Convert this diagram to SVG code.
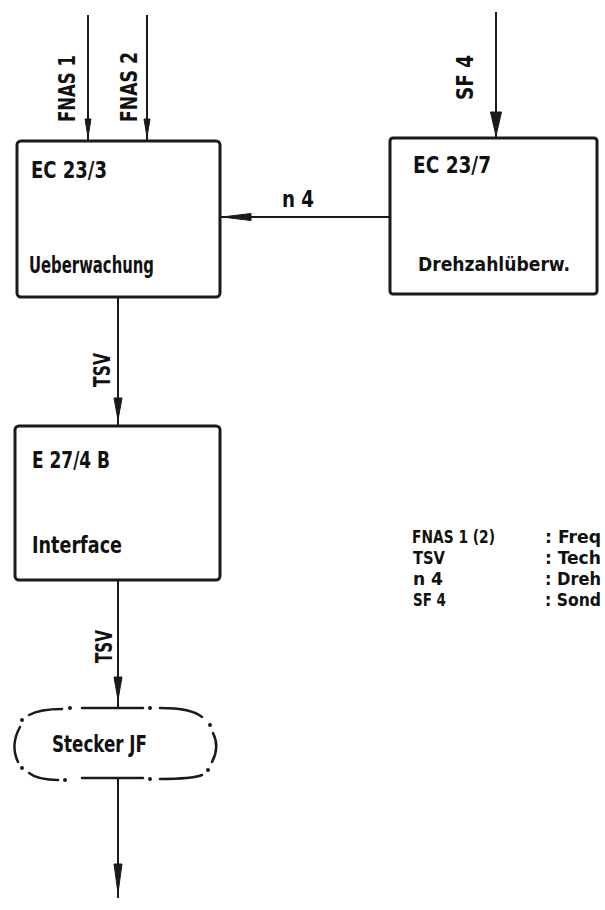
<svg xmlns="http://www.w3.org/2000/svg" width="605" height="910" viewBox="0 0 605 910">
<style>
  .bg { fill: #ffffff; }
  .box { fill: none; stroke: #1a1a1a; stroke-width: 3; }
  .ln { fill: none; stroke: #1a1a1a; stroke-width: 2; }
  .head { fill: #1a1a1a; stroke: #1a1a1a; stroke-width: 1; stroke-linejoin: round; }
  .dash { fill: none; stroke: #1a1a1a; stroke-width: 2.5; stroke-linecap: round; }
  .dot { fill: #1a1a1a; }
  .t { font-family: "DejaVu Sans Condensed", "DejaVu Sans", sans-serif; font-weight: bold; font-size: 23px; fill: #111111; }
  .ts { font-size: 20px; }
  .lg { font-family: "DejaVu Sans Condensed", "DejaVu Sans", sans-serif; font-weight: bold; font-size: 17px; fill: #111111; }
</style>
<rect class="bg" x="0" y="0" width="605" height="910"/>

<g id="connectors">
  <line class="ln" x1="88" y1="15" x2="88" y2="141"/>
  <polygon class="head" points="88,137 85,119 91,119"/>
  <text class="t" transform="translate(75,122) rotate(-90)" textLength="67" lengthAdjust="spacingAndGlyphs">FNAS 1</text>

  <line class="ln" x1="147" y1="15" x2="147" y2="141"/>
  <polygon class="head" points="147,137 144,119 150,119"/>
  <text class="t" transform="translate(137,122) rotate(-90)" textLength="70" lengthAdjust="spacingAndGlyphs">FNAS 2</text>

  <line class="ln" x1="496" y1="12" x2="496" y2="138"/>
  <polygon class="head" points="496,136 490.5,112 501.5,112"/>
  <text class="t" transform="translate(473,100) rotate(-90)" textLength="45" lengthAdjust="spacingAndGlyphs">SF 4</text>

  <line class="ln" x1="390" y1="217" x2="220" y2="217"/>
  <polygon class="head" points="222,217 251,213.5 251,220.5"/>
  <text class="t" x="282" y="207" textLength="32" lengthAdjust="spacingAndGlyphs">n 4</text>

  <line class="ln" x1="118" y1="297" x2="118" y2="426"/>
  <polygon class="head" points="118,420 114,398 122,398"/>
  <text class="t" transform="translate(110,387) rotate(-90)" textLength="34" lengthAdjust="spacingAndGlyphs">TSV</text>

  <line class="ln" x1="118" y1="580" x2="118" y2="708"/>
  <polygon class="head" points="118,700 114,677 122,677"/>
  <text class="t" transform="translate(112,663) rotate(-90)" textLength="33" lengthAdjust="spacingAndGlyphs">TSV</text>

  <line class="ln" x1="118" y1="778" x2="118" y2="898"/>
  <polygon class="head" points="118,893 114,864 122,864"/>
</g>

<g id="node-ec233">
  <rect class="box" x="17" y="141" width="203" height="156" rx="4"/>
  <text class="t" x="31" y="178" textLength="76" lengthAdjust="spacingAndGlyphs">EC 23/3</text>
  <text class="t" x="29" y="273" textLength="125" lengthAdjust="spacingAndGlyphs">Ueberwachung</text>
</g>

<g id="node-ec237">
  <rect class="box" x="390" y="138" width="207" height="156" rx="3"/>
  <text class="t" x="413" y="173" textLength="78" lengthAdjust="spacingAndGlyphs">EC 23/7</text>
  <text class="t ts" x="418" y="271" textLength="152" lengthAdjust="spacingAndGlyphs">Drehzahlüberw.</text>
</g>

<g id="node-e274b">
  <rect class="box" x="15" y="426" width="205" height="154" rx="4"/>
  <text class="t" x="32" y="468" textLength="78" lengthAdjust="spacingAndGlyphs">E 27/4 B</text>
  <text class="t" x="32" y="553" textLength="90" lengthAdjust="spacingAndGlyphs">Interface</text>
</g>

<g id="node-stecker">
  <path class="dash" d="M29,715 Q40,709 62,709"/>
  <circle class="dot" cx="70" cy="708" r="2"/>
  <path class="dash" d="M82,708 L143,708"/>
  <circle class="dot" cx="150" cy="708" r="2"/>
  <path class="dash" d="M160,708 Q192,708 202,717"/>
  <circle class="dot" cx="210" cy="725" r="2"/>
  <path class="dash" d="M213,733 Q220,747 212,762"/>
  <circle class="dot" cx="208" cy="770" r="2"/>
  <path class="dash" d="M202,775 Q192,779 160,779"/>
  <circle class="dot" cx="150" cy="779" r="2"/>
  <path class="dash" d="M82,778 L143,778"/>
  <circle class="dot" cx="65" cy="780" r="2"/>
  <path class="dash" d="M58,780 Q38,780 29,773"/>
  <circle class="dot" cx="22" cy="768" r="2"/>
  <path class="dash" d="M18,762 Q10,745 20,727"/>
  <circle class="dot" cx="22" cy="720" r="2"/>
  <text class="t" x="52" y="752" textLength="95" lengthAdjust="spacingAndGlyphs">Stecker JF</text>
</g>

<g id="legend">
  <text class="lg" x="412" y="543" textLength="83" lengthAdjust="spacingAndGlyphs">FNAS 1 (2)</text>
  <text class="lg" x="413" y="564" textLength="32" lengthAdjust="spacingAndGlyphs">TSV</text>
  <text class="lg" x="413" y="585" textLength="30" lengthAdjust="spacingAndGlyphs">n 4</text>
  <text class="lg" x="413" y="606" textLength="33" lengthAdjust="spacingAndGlyphs">SF 4</text>
  <text class="lg" x="545" y="543" textLength="56" lengthAdjust="spacingAndGlyphs">: Freq</text>
  <text class="lg" x="545" y="564" textLength="56" lengthAdjust="spacingAndGlyphs">: Tech</text>
  <text class="lg" x="545" y="585" textLength="56" lengthAdjust="spacingAndGlyphs">: Dreh</text>
  <text class="lg" x="545" y="606" textLength="56" lengthAdjust="spacingAndGlyphs">: Sond</text>
</g>
</svg>
